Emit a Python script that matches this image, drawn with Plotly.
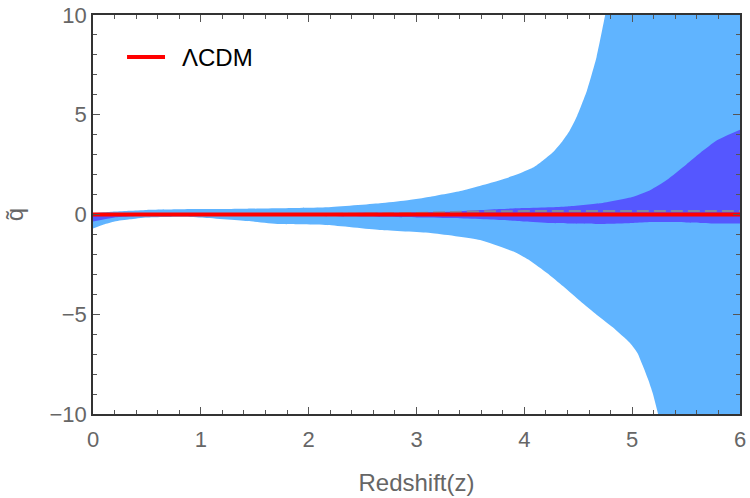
import plotly.graph_objects as go

# Outer (2-sigma) band
z_outer_hi = [0.0, 0.1, 0.2, 0.34, 0.5, 0.81, 1.0, 1.43, 1.73, 2.17, 2.66, 2.9, 3.13, 3.43, 3.6, 3.78, 3.93, 4.08, 4.17, 4.27, 4.35, 4.42, 4.49, 4.58, 4.67, 4.75, 4.85, 5.0, 5.5, 6.0]
q2_hi = [0.07, 0.11, 0.15, 0.19, 0.23, 0.26, 0.27, 0.29, 0.31, 0.36, 0.56, 0.7, 0.89, 1.2, 1.45, 1.73, 2.0, 2.35, 2.7, 3.15, 3.65, 4.2, 4.95, 6.2, 7.9, 10.0, 12.5, 16.0, 28.0, 40.0]
z_outer_lo = [0.0, 0.1, 0.2, 0.34, 0.5, 0.81, 1.0, 1.43, 1.73, 2.17, 2.66, 3.13, 3.59, 3.9, 4.05, 4.21, 4.36, 4.52, 4.67, 4.82, 4.98, 5.05, 5.1, 5.15, 5.19, 5.24, 5.3, 5.5, 6.0]
q2_lo = [-0.7, -0.5, -0.35, -0.24, -0.15, -0.11, -0.15, -0.33, -0.48, -0.53, -0.78, -0.93, -1.28, -1.86, -2.3, -2.93, -3.6, -4.35, -5.02, -5.65, -6.44, -6.95, -7.6, -8.3, -8.95, -10.0, -11.5, -15.0, -25.0]

# Inner (1-sigma) band
z_inner = [0.0, 0.2, 0.5, 1.0, 2.0, 3.0, 3.31, 3.78, 4.0, 4.24, 4.4, 4.7, 5.01, 5.17, 5.32, 5.5, 5.63, 5.79, 6.0]
q1_hi = [0.0, 0.03, 0.05, 0.05, 0.07, 0.1, 0.14, 0.27, 0.32, 0.36, 0.4, 0.56, 0.89, 1.23, 1.73, 2.5, 3.08, 3.73, 4.25]
q1_lo = [-0.35, -0.15, -0.05, -0.06, -0.08, -0.15, -0.18, -0.28, -0.35, -0.43, -0.45, -0.47, -0.42, -0.38, -0.38, -0.4, -0.42, -0.45, -0.45]

# Mean reconstruction (dashed)
z_mean = [0.0, 1.0, 2.0, 3.0, 3.5, 4.0, 5.0, 6.0]
q_mean = [0.0, 0.0, 0.02, 0.08, 0.15, 0.17, 0.18, 0.18]

# LambdaCDM reference
z_lcdm = [0.0, 6.0]
q_lcdm = [0.0, 0.0]
legend_label = "\u039bCDM"

x_ticks = [0, 1, 2, 3, 4, 5, 6]
y_ticks = [-10, -5, 0, 5, 10]
y_tick_text = ["\u221210", "\u22125", "0", "5", "10"]

LIGHT = "rgb(96,180,255)"
DARK = "rgb(85,87,255)"
FONT = "Liberation Sans, Arial"
SPL = dict(width=0, shape="spline", smoothing=0.5)

fig = go.Figure()
fig.add_trace(go.Scatter(x=z_outer_lo, y=q2_lo, mode="lines", line=SPL,
                         showlegend=False, hoverinfo="skip"))
fig.add_trace(go.Scatter(x=z_outer_hi, y=q2_hi, mode="lines", fill="tonexty", fillcolor=LIGHT,
                         line=SPL, showlegend=False, hoverinfo="skip"))
fig.add_trace(go.Scatter(x=z_inner, y=q1_lo, mode="lines", line=SPL,
                         showlegend=False, hoverinfo="skip"))
fig.add_trace(go.Scatter(x=z_inner, y=q1_hi, mode="lines", fill="tonexty", fillcolor=DARK,
                         line=SPL, showlegend=False, hoverinfo="skip"))
fig.add_trace(go.Scatter(x=z_mean, y=q_mean, mode="lines",
                         line=dict(color="rgb(128,140,162)", width=2, dash="12px,5px", shape="spline"),
                         showlegend=False, hoverinfo="skip"))
fig.add_trace(go.Scatter(x=z_lcdm, y=q_lcdm, mode="lines",
                         line=dict(color="#ff0000", width=4), name=legend_label, showlegend=False))

# manual legend entry
fig.add_shape(type="line", xref="paper", yref="paper", x0=0.0526, x1=0.1113, y0=0.8947, y1=0.8947,
              line=dict(color="#ff0000", width=4))
fig.add_annotation(xref="paper", yref="paper", x=0.1345, y=0.8947, xanchor="left", yanchor="middle",
                   text=legend_label, showarrow=False, font=dict(family=FONT, size=24, color="black"))

axis_common = dict(
    showgrid=False, zeroline=False, showline=True, linecolor="#333333", linewidth=1.5,
    mirror="allticks", ticks="inside", ticklen=7, tickwidth=1.2, tickcolor="#555555",
    tickfont=dict(family=FONT, size=22, color="#666666"), automargin=False,
)

fig.update_layout(
    width=750, height=498,
    margin=dict(l=93, r=10, t=15, b=84),
    plot_bgcolor="white", paper_bgcolor="white",
    showlegend=False,
    xaxis=dict(range=[0, 6], tickvals=x_ticks, ticklabelstandoff=5,
               title=dict(text="Redshift(z)", font=dict(family=FONT, size=24, color="#666666"), standoff=23),
               minor=dict(ticks="inside", ticklen=4, dtick=0.2, tickcolor="#555555", tickwidth=1),
               **axis_common),
    yaxis=dict(range=[-10, 10], tickvals=y_ticks, ticktext=y_tick_text,
               title=dict(text="q\u0303", font=dict(family=FONT, size=24, color="#666666"), standoff=19),
               minor=dict(ticks="inside", ticklen=4, dtick=1, tickcolor="#555555", tickwidth=1),
               **axis_common),
)

fig.write_html("out.html")
